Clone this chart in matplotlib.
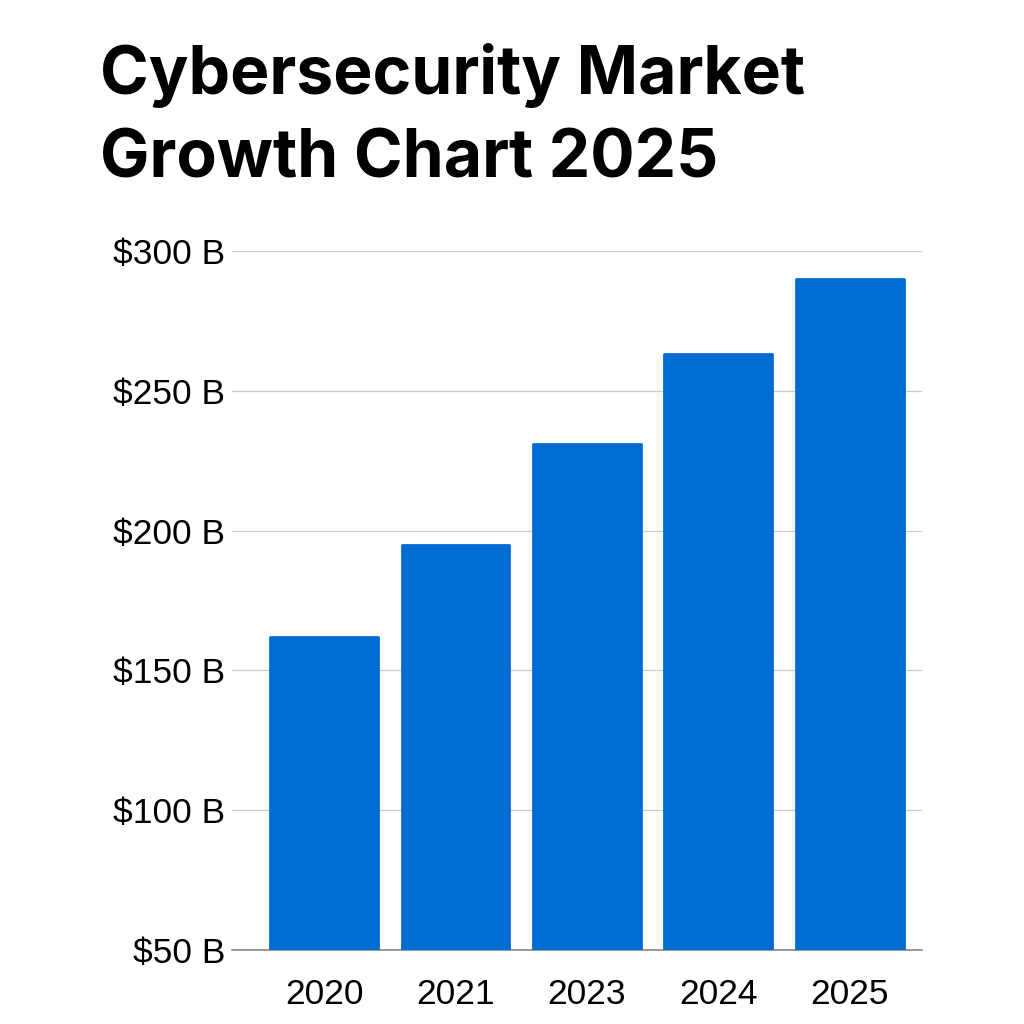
import matplotlib.pyplot as plt

# data
years = ["2020", "2021", "2023", "2024", "2025"]
market = [162, 195, 231, 263, 290]  # $B
yticks = [50, 100, 150, 200, 250, 300]

plt.rcParams['font.family'] = ['Liberation Sans', 'DejaVu Sans']

fig = plt.figure(figsize=(10.24, 10.24), dpi=100)
ax = fig.add_axes([0.2266, 0.0723, 0.6738, 0.6826])

x = range(len(years))
ax.bar(x, market, bottom=0, width=0.82, color='#006BD3',
       edgecolor='#006BD3', linewidth=2, joinstyle='round', zorder=3)

ax.set_ylim(50, 300)
ax.set_xlim(-0.70, 4.55)
ax.set_yticks(yticks)
ax.set_yticklabels([f"${v} B" for v in yticks])
ax.set_xticks(list(x))
ax.set_xticklabels(years)
ax.tick_params(axis='both', length=0, labelsize=25.5, colors='black')
ax.tick_params(axis='y', pad=5)
ax.tick_params(axis='x', pad=20)

ax.grid(axis='y', color='#cccccc', linewidth=0.9, zorder=0)
for s in ['top', 'right', 'left']:
    ax.spines[s].set_visible(False)
ax.spines['bottom'].set_color('#888888')
ax.spines['bottom'].set_linewidth(1.2)

fig.text(0.098, 0.958, "Cybersecurity Market\nGrowth Chart 2025",
         fontsize=47.5, fontweight='bold', family=['Inter', 'DejaVu Sans'],
         ha='left', va='top', linespacing=1.42)

fig.savefig("out.png", dpi=100)
